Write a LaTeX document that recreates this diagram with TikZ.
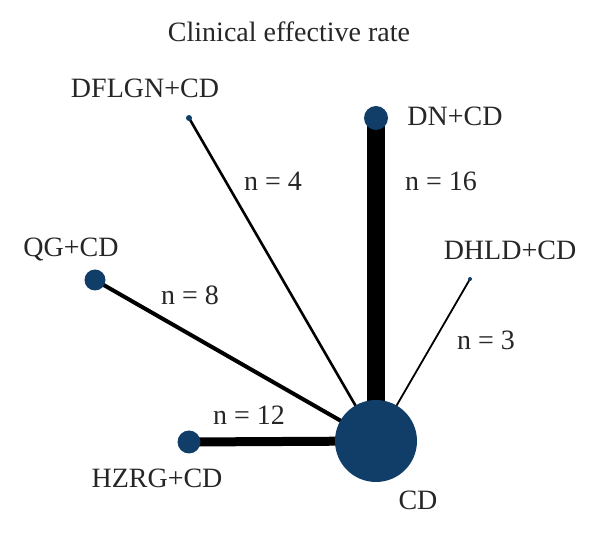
\documentclass[tikz,border=0pt]{standalone}
\usepackage{fontspec}
\setmainfont{Liberation Serif}
\usetikzlibrary{backgrounds}
\definecolor{nodeblue}{RGB}{16,62,104}
\tikzset{
  trt/.style={circle, fill=nodeblue, draw=none, inner sep=0pt, minimum size=#1},
  lbl/.style={anchor=base, inner sep=0pt, font=\fontsize{28}{32}\selectfont, text=black!85},
  edge/.style={draw=black, line width=#1}
}
\begin{document}
\begin{tikzpicture}[x=1pt,y=-1pt]
\useasboundingbox (0,0) rectangle (600,534);
% treatment nodes
\node[trt=82pt] (cd) at (376,441) {};
\node[trt=24pt] (dn) at (376,118) {};
\node[trt=6pt] (dflgn) at (189,118) {};
\node[trt=4pt] (dhld) at (470,279) {};
\node[trt=21pt] (qg) at (95,280) {};
\node[trt=23pt] (hzrg) at (189,442) {};
% connectors
\begin{pgfonlayer}{background}
\draw[edge=18pt] (cd.center) -- (dn.center);
\draw[edge=9pt] (cd.center) -- (hzrg.center);
\draw[edge=4pt] (cd.center) -- (qg.center);
\draw[edge=2.6pt] (cd.center) -- (dflgn.center);
\draw[edge=1.8pt] (cd.center) -- (dhld.center);
\end{pgfonlayer}
% labels
\node[lbl] (title) at (289,42) {Clinical effective rate};
\node[lbl] (tdflgn) at (145,98) {DFLGN+CD};
\node[lbl] (tdn) at (455,126) {DN+CD};
\node[lbl] (tdhld) at (510,260) {DHLD+CD};
\node[lbl] (tqg) at (71,257) {QG+CD};
\node[lbl] (thzrg) at (157,487) {HZRG+CD};
\node[lbl] (tcd) at (418,510) {CD};
\node[lbl] (n4) at (273,191) {n = 4};
\node[lbl] (n16) at (441,191) {n = 16};
\node[lbl] (n8) at (190,305) {n = 8};
\node[lbl] (n3) at (486,350) {n = 3};
\node[lbl] (n12) at (249,425) {n = 12};
\end{tikzpicture}
\end{document}
